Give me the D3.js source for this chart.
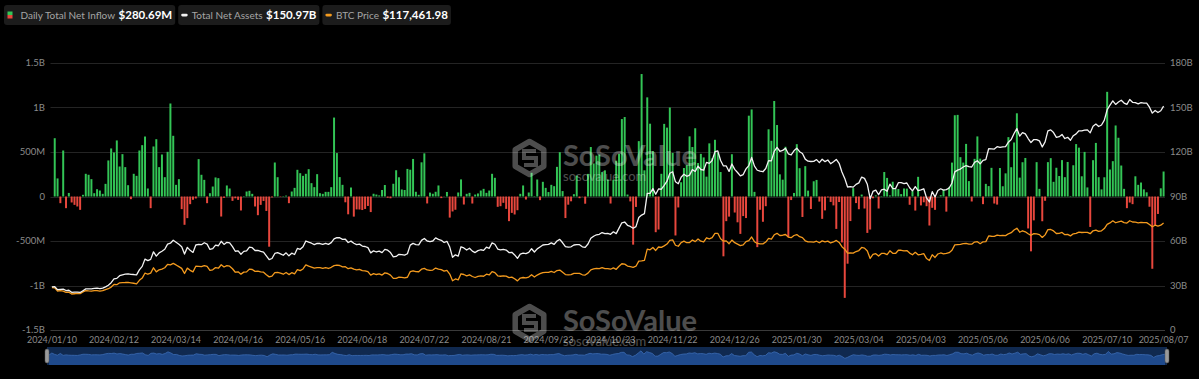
<!DOCTYPE html>
<html><head><meta charset="utf-8">
<script src="https://cdn.jsdelivr.net/npm/d3@7"></script>
<style>html,body{margin:0;padding:0;background:#000;}svg{display:block;}</style>
</head><body>
<svg id="chart" width="1199" height="379"></svg>
<script>
// ---- DATA ----
// x axis tick labels (category axis, one category per trading day) and the category index of each label
const tickLabels = ["2024/01/10","2024/02/12","2024/03/14","2024/04/16","2024/05/16","2024/06/18","2024/07/22","2024/08/21","2024/09/23","2024/10/23","2024/11/22","2024/12/26","2025/01/30","2025/03/04","2025/04/03","2025/05/06","2025/06/06","2025/07/10","2025/08/07"];
const tickIndex = [0,22,44,66,88,110,132,154,176,198,220,242,264,286,308,330,352,374,394];
const leftTicks = [-1500,-1000,-500,0,500,1000,1500];
const leftTickLabels = ["-1.5B","-1B","-500M","0","500M","1B","1.5B"];
const rightTicks = [0,30,60,90,120,150,180];
const rightTickLabels = ["0","30B","60B","90B","120B","150B","180B"];

// Daily total net inflow, $M
const flows = [0,
655,203,-75,517,-131,40,-67,-94,-112,-150,19,255,244,195,
37,82,67,30,142,405,540,495,630,337,476,330,127,-30,255,232,517,577,674,90,
-131,562,644,330,472,217,502,1045,682,131,195,-142,-318,-243,-86,-37,-22,420,244,187,
-75,37,112,214,206,-225,-15,124,90,-49,-20,-38,-157,5,56,64,30,-112,-210,-94,-50,-162,
-564,-10,382,217,-5,5,10,-75,56,97,300,262,232,255,307,150,105,251,37,30,52,52,
105,887,488,218,131,-65,-200,101,-226,-145,-146,-152,-140,-106,-175,31,22,12,73,
129,-14,-20,143,295,216,79,73,310,301,422,53,19,384,485,-78,44,31,53,124,-18,3,
51,-237,-168,-149,45,192,-90,30,41,-79,22,34,67,86,41,67,255,210,-116,-109,-71,-139,
-277,-184,-202,-154,30,124,-34,45,266,5,191,-41,165,97,50,131,116,333,498,61,
-242,-92,-54,26,235,-19,-3,-81,254,556,371,459,471,274,294,192,-79,188,402,479,870,893,22,
-55,-541,-117,622,1376,294,1114,818,510,-401,-371,255,816,774,1000,490,-438,-123,160,320,
353,676,556,767,376,479,439,223,597,429,637,493,275,-672,-277,-226,475,-180,-290,-420,-220,
-242,908,978,52,-569,-149,-284,-109,755,626,1073,803,249,189,559,-458,-40,40,588,318,
-230,341,66,-140,171,186,-57,-251,-156,-10,-61,-100,-364,-62,-516,-1139,-755,-276,94,
-74,-143,22,-135,-409,-371,-20,13,-135,5,275,209,12,166,83,84,27,90,89,-93,61,
-158,221,-100,-65,-109,-326,-127,-150,2,15,76,-170,108,381,913,917,442,381,591,173,-56,
423,675,425,-86,142,117,322,-79,-91,320,115,260,667,329,607,935,212,385,433,-359,-616,
-268,386,86,-278,-48,386,431,165,323,230,409,217,388,6,351,589,549,227,501,102,
-342,408,602,217,80,216,1176,303,397,798,660,348,86,-131,-68,-86,227,131,157,80,47,-115,
-812,-323,-196,92,280.69];

// Total net assets, $B
const tna = [29.1,
29.2,27.2,27.4,27.6,26.6,26.8,25.4,25.5,25.5,25.3,26.5,27.7,27.7,27.7,
28.1,28.2,27.9,28.2,29.1,30.2,31.9,34.4,34.8,36.6,37.2,37.6,37.9,37.5,37.4,37.2,40.5,42.9,47.8,46.8,
47.6,52.7,49.8,52.0,53.1,54.4,57.9,58.5,60.5,59.2,57.8,56.1,51.2,55.7,53.7,52.3,57.3,57.7,57.5,58.8,
57.9,54.3,54.9,57.2,56.8,59.8,57.7,59.1,58.7,56.2,53.1,53.3,51.1,53.0,53.3,55.8,55.5,53.6,53.6,53.0,52.5,50.0,
47.5,48.2,51.6,52.1,51.3,50.4,52.0,50.0,51.8,50.9,55.0,54.4,56.1,60.0,59.2,58.5,57.6,58.4,58.3,57.7,58.4,57.7,
58.9,61.4,62.3,62.2,61.1,61.2,59.0,59.9,58.5,57.6,57.9,56.6,56.3,55.5,52.0,53.4,52.6,53.2,52.2,
54.4,53.8,52.2,49.3,49.6,51.0,50.8,50.5,51.4,57.2,58.4,57.6,57.4,60.4,61.7,60.0,59.6,60.0,62.1,61.1,60.5,59.0,
59.8,55.9,49.0,50.7,49.8,56.1,55.3,53.9,55.1,53.2,52.2,53.5,54.1,53.7,55.8,55.1,58.7,57.8,54.6,54.0,54.3,53.9,
52.2,52.4,50.6,48.3,51.2,51.8,51.5,52.3,54.8,52.6,54.7,56.0,57.3,57.5,57.7,58.7,57.7,60.0,61.1,58.8,
56.2,55.9,56.1,57.3,57.6,57.5,56.1,55.7,58.0,61.8,63.2,64.2,64.5,65.7,65.0,65.2,64.5,66.2,65.0,68.7,72.3,72.8,70.6,
69.8,68.6,69.7,75.8,77.5,78.4,92.1,92.1,95.3,91.5,95.1,94.9,97.5,100.3,105.7,106.7,99.9,98.6,103.0,105.0,
103.6,104.4,108.1,106.9,110.5,108.2,107.7,113.0,112.3,114.3,120.2,120.7,114.3,110.6,110.6,106.9,111.9,108.3,106.2,103.9,104.8,
108.6,110.8,116.3,110.5,107.7,107.1,106.7,108.9,114.2,114.0,120.4,123.1,120.5,121.1,122.5,118.8,118.0,120.8,122.6,120.2,
119.0,115.2,113.8,113.6,113.7,114.9,112.8,115.1,113.5,114.6,112.1,113.4,115.0,112.4,106.5,102.2,96.4,96.6,96.3,
98.2,99.2,103.1,102.2,98.2,88.5,93.4,94.3,91.2,94.5,94.9,93.5,98.3,95.4,95.3,99.3,99.3,98.7,99.1,95.9,93.8,
96.7,93.9,94.5,95.2,89.0,86.3,93.3,89.7,94.0,95.2,94.3,94.6,95.7,99.1,106.6,107.8,108.5,109.9,110.8,110.1,109.9,
113.0,114.1,112.0,114.4,114.8,122.2,122.1,122.0,123.6,123.1,123.4,123.6,126.6,128.4,132.5,135.8,130.7,133.1,132.2,129.1,126.4,
128.4,128.4,127.5,123.4,126.8,134.3,134.9,133.1,129.9,130.3,131.8,129.1,129.9,127.9,131.0,132.2,134.3,134.2,134.8,134.9,
132.9,137.3,138.8,137.2,138.2,141.5,148.5,151.6,154.5,152.1,153.7,154.9,153.0,152.1,155.4,153.5,153.3,152.5,153.3,153.0,152.9,150.2,
146.2,148.0,146.6,147.8,150.97];

// BTC price, $K
const btc = [46.6,
46.3,42.8,43.1,42.7,41.3,41.6,39.5,39.8,40.1,39.9,41.8,43.3,42.9,42.6,
43.1,43.2,42.6,43.1,44.3,45.3,47.1,50.0,49.7,51.8,52.0,52.1,52.3,51.8,51.3,50.7,54.5,57.0,62.5,61.2,
62.4,68.3,63.8,66.1,66.9,68.3,72.1,71.5,73.1,71.4,69.5,67.6,62.0,67.9,65.5,63.8,70.0,69.9,69.5,70.7,
69.7,65.4,66.0,68.5,67.8,71.6,69.1,70.6,70.0,67.2,63.4,63.8,61.3,63.5,63.8,66.8,66.4,64.3,64.5,63.8,63.4,60.6,
58.3,59.1,62.9,63.2,62.3,61.2,63.1,60.8,62.9,61.6,66.3,65.2,67.0,71.4,70.1,69.1,67.9,68.5,68.4,67.6,68.4,67.5,
68.8,70.6,71.1,70.8,69.3,69.5,67.3,68.2,66.8,66.0,66.5,65.1,64.9,64.1,60.3,61.8,60.9,61.6,60.3,
62.7,62.0,60.2,56.7,56.7,58.0,57.7,57.3,57.9,64.1,65.0,64.1,63.9,66.7,67.6,65.9,65.4,65.8,68.0,66.8,66.2,64.6,
65.4,61.4,54.0,56.0,55.0,61.7,60.9,59.4,60.6,58.7,57.6,58.9,59.5,59.0,61.2,60.4,64.1,62.9,59.5,59.0,59.4,59.1,
57.5,58.0,56.2,53.9,57.0,57.6,57.3,58.1,60.6,58.2,60.3,61.8,63.0,63.2,63.3,64.3,63.1,65.2,65.8,63.3,
60.8,60.6,60.8,62.1,62.2,62.1,60.6,60.3,62.4,66.0,67.0,67.6,67.4,68.4,67.4,67.4,66.7,68.2,66.6,69.9,72.7,72.3,70.2,
69.5,68.8,70.0,75.6,75.9,76.5,88.7,88.0,90.5,87.3,91.1,90.6,92.3,94.3,98.4,98.9,93.0,91.9,95.9,97.5,
95.8,96.0,98.8,97.0,99.9,97.4,96.6,101.2,100.0,101.4,106.1,106.1,100.2,97.5,97.8,94.7,98.7,95.8,94.2,92.6,93.4,
97.0,98.1,102.1,96.9,95.0,94.6,94.5,96.5,100.5,99.8,104.5,106.1,103.7,104.0,104.8,102.0,101.3,103.7,104.7,102.4,
101.4,97.9,96.6,96.6,96.5,97.4,95.7,97.8,96.6,97.5,95.5,96.6,98.3,96.1,91.4,88.7,84.3,84.7,84.4,
86.1,87.2,90.6,89.9,86.7,78.5,82.9,83.7,81.1,84.0,84.1,82.7,86.9,84.2,84.0,87.5,87.5,86.9,87.2,84.4,82.5,
85.2,82.5,83.1,83.8,78.4,76.3,82.6,79.6,83.4,84.5,83.6,84.0,84.9,87.5,93.4,93.7,93.9,94.7,95.0,94.3,94.2,
96.5,96.9,94.7,96.8,97.0,103.2,102.9,102.8,104.2,103.5,103.7,103.6,105.6,106.8,109.7,111.7,107.3,108.9,107.8,105.6,103.9,
105.8,105.4,104.7,101.6,104.4,110.2,110.3,108.7,105.9,106.1,107.0,104.6,104.9,103.3,105.6,106.0,107.3,107.0,107.1,107.1,
105.7,108.9,109.6,108.2,108.9,111.3,115.9,117.5,119.8,117.7,118.7,119.4,117.9,117.3,119.9,118.5,118.3,117.6,118.1,117.9,117.8,115.8,
113.3,115.0,114.1,115.0,117.46198];

const categories = d3.range(flows.length); // one category per trading day

// ---- CHART ----
const svg = d3.select("#chart");
const W = 1199, H = 379;
const plot = {left: 50.5, right: 1165, top: 63, bottom: 330};
const font = "Lato, 'Open Sans', sans-serif";
const axisColor = "#8b8b8b";

svg.append("rect").attr("width", W).attr("height", H).attr("fill", "#000");

const x = d3.scaleBand().domain(categories).range([plot.left, plot.right]).paddingInner(0.3).paddingOuter(0.15);
const cx = i => x(i) + x.bandwidth() / 2;
const yL = d3.scaleLinear().domain([-1500, 1500]).range([plot.bottom, plot.top]);
const yR = d3.scaleLinear().domain([0, 180]).range([plot.bottom, plot.top]);
const yP = d3.scaleLinear().domain([0, 293]).range([plot.bottom, plot.top]);

// grid
svg.append("g").selectAll("line").data(leftTicks).join("line")
  .attr("x1", plot.left).attr("x2", plot.right)
  .attr("y1", d => Math.round(yL(d)) + 0.5).attr("y2", d => Math.round(yL(d)) + 0.5)
  .attr("stroke", (d, i) => i === 0 ? "#3a3a3a" : "#242424").attr("stroke-width", 1);

// left axis labels
svg.append("g").selectAll("text").data(leftTicks).join("text")
  .attr("x", 45).attr("y", d => yL(d)).attr("dy", "0.35em")
  .attr("text-anchor", "end").attr("fill", axisColor)
  .style("font", `9.5px ${font}`).text((d, i) => leftTickLabels[i]);

// right axis labels
svg.append("g").selectAll("text").data(rightTicks).join("text")
  .attr("x", 1170).attr("y", d => yR(d)).attr("dy", "0.35em")
  .attr("text-anchor", "start").attr("fill", axisColor)
  .style("font", `9.5px ${font}`).text((d, i) => rightTickLabels[i]);

// x labels
svg.append("g").selectAll("text").data(tickIndex).join("text")
  .attr("x", d => cx(d)).attr("y", 340).attr("dy", "0.35em")
  .attr("text-anchor", "middle").attr("fill", axisColor)
  .style("font", `9px ${font}`).text((d, i) => tickLabels[i]);

// bars
svg.append("g").selectAll("rect").data(categories.filter(i => flows[i] !== 0)).join("rect")
  .attr("x", i => x(i)).attr("width", x.bandwidth())
  .attr("y", i => Math.min(yL(flows[i]), yL(0)))
  .attr("height", i => Math.abs(yL(flows[i]) - yL(0)))
  .attr("fill", i => flows[i] >= 0 ? "#33c556" : "#e8473d");

// lines
const lineT = d3.line().x((d, i) => cx(i)).y(d => yR(d));
const lineP = d3.line().x((d, i) => cx(i)).y(d => yP(d));
svg.append("path").attr("d", lineP(btc)).attr("fill", "none").attr("stroke", "#f39a1e").attr("stroke-width", 1.3).attr("stroke-linejoin", "round");
svg.append("path").attr("d", lineT(tna)).attr("fill", "none").attr("stroke", "#f2f2f2").attr("stroke-width", 1.3).attr("stroke-linejoin", "round");

// watermarks
function watermark(gx, gy) {
  const g = svg.append("g").attr("transform", `translate(${gx},${gy})`).attr("opacity", 0.3);
  const hex = d3.range(6).map(k => { const a = Math.PI / 3 * k - Math.PI / 2; return [18.5 + 16.5 * Math.cos(a), 19 + 16.5 * Math.sin(a)]; });
  g.append("path").attr("d", "M" + hex.join("L") + "Z").attr("fill", "none").attr("stroke", "#fff").attr("stroke-width", 5.5).attr("stroke-linejoin", "round");
  g.append("path").attr("d", "M25,12 L13,12 L13,19 L25,19 L25,26 L13,26").attr("fill", "none").attr("stroke", "#fff").attr("stroke-width", 4);
  g.append("text").attr("x", 52).attr("y", 27).attr("fill", "#fff").style("font", `bold 29px ${font}`).text("SoSoValue");
  g.append("text").attr("x", 52).attr("y", 42).attr("fill", "#fff").style("font", `13px ${font}`).text("sosovalue.com");
}
watermark(511, 139);
watermark(511, 304);

// navigator (data zoom)
const nav = {left: 47, right: 1167, top: 347, bottom: 365};
const xn = d3.scaleLinear().domain([0, flows.length - 1]).range([nav.left + 2, nav.right - 2]);
const yn = d3.scaleLinear().domain([-1500, 1500]).range([359.5, 350.5]);
svg.append("rect").attr("x", nav.left).attr("y", nav.top).attr("width", nav.right - nav.left).attr("height", nav.bottom - nav.top).attr("fill", "#10294f");
const areaN = d3.area().x((d, i) => xn(i)).y0(nav.bottom).y1(d => yn(d));
svg.append("path").attr("d", areaN(flows)).attr("fill", "#1f4a8c");
svg.append("path").attr("d", d3.line().x((d, i) => xn(i)).y(d => yn(d))(flows)).attr("fill", "none").attr("stroke", "#3b6bb3").attr("stroke-width", 0.8);
[nav.left, nav.right].forEach(hx => {
  svg.append("rect").attr("x", hx - 2).attr("y", nav.top + 2).attr("width", 4).attr("height", nav.bottom - nav.top - 4).attr("rx", 2).attr("fill", "#9a9a9a").attr("stroke", "#555").attr("stroke-width", 0.5);
});

// legend
const legendItems = [
  {label: "Daily Total Net Inflow", value: "$" + flows[flows.length - 1].toFixed(2) + "M", type: "bar"},
  {label: "Total Net Assets", value: "$" + tna[tna.length - 1].toFixed(2) + "B", type: "line", color: "#f2f2f2"},
  {label: "BTC Price", value: "$" + d3.format(",.2f")(btc[btc.length - 1] * 1000), type: "line", color: "#f39a1e"}
];
let lx = 4;
legendItems.forEach(item => {
  const g = svg.append("g");
  const box = g.append("rect").attr("x", lx).attr("y", 5).attr("height", 20).attr("rx", 3).attr("fill", "#1c1c1c");
  let tx = lx + 3;
  if (item.type === "bar") {
    g.append("rect").attr("x", tx + 0.5).attr("y", 11.5).attr("width", 5).attr("height", 3.5).attr("fill", "#33c556");
    g.append("rect").attr("x", tx + 0.5).attr("y", 15).attr("width", 5).attr("height", 3.5).attr("fill", "#e8473d");
    tx += 13.5;
  } else {
    g.append("rect").attr("x", tx).attr("y", 13.8).attr("width", 6.5).attr("height", 2.6).attr("rx", 1.3).attr("fill", item.color);
    tx += 10.5;
  }
  const t1 = g.append("text").attr("x", tx).attr("y", 18.6).attr("fill", "#a5a5a5").style("font", `10px ${font}`).text(item.label);
  const w1 = t1.node().getComputedTextLength();
  const t2 = g.append("text").attr("x", tx + w1 + 3.5).attr("y", 19).attr("fill", "#fff").style("font", `bold 11.5px ${font}`).text(item.value);
  const w2 = t2.node().getComputedTextLength();
  const bw = tx + w1 + 3.5 + w2 + 3 - lx;
  box.attr("width", bw);
  lx += bw + 3;
});
</script>
</body></html>
